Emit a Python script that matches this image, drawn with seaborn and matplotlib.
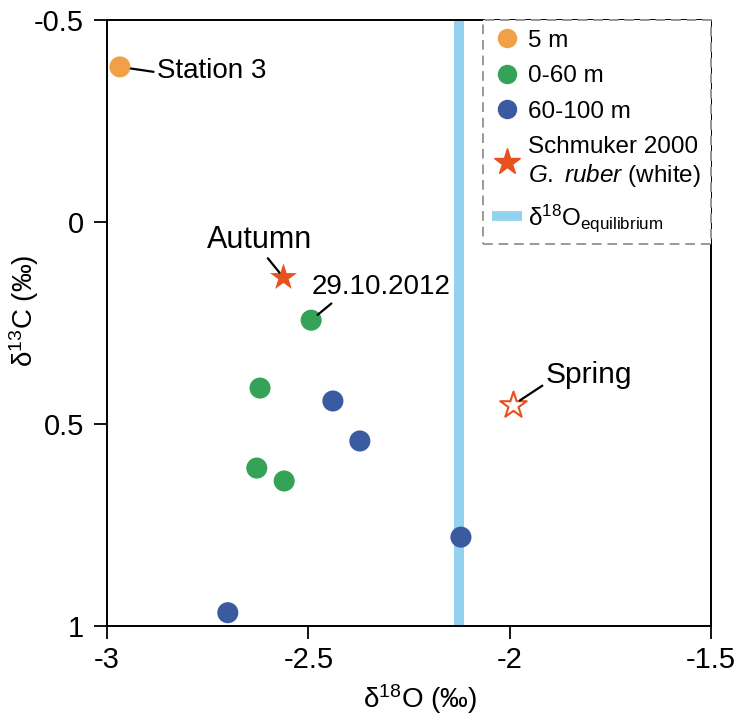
import seaborn as sns
import matplotlib.pyplot as plt
import pandas as pd
from matplotlib.lines import Line2D

# data
groups = ['5 m', '0-60 m', '0-60 m', '0-60 m', '0-60 m',
          '60-100 m', '60-100 m', '60-100 m', '60-100 m']
d18o = [-2.968, -2.493, -2.620, -2.628, -2.560, -2.439, -2.372, -2.121, -2.700]
d13c = [-0.384, 0.243, 0.411, 0.609, 0.641, 0.443, 0.542, 0.780, 0.967]
star_labels = ['Autumn', 'Spring']
star_d18o = [-2.563, -1.992]
star_d13c = [0.136, 0.453]
equilibrium = -2.126
xticks = [-3, -2.5, -2, -1.5]
yticks = [-0.5, 0, 0.5, 1]

pal = {'5 m': '#F2A048', '0-60 m': '#34A358', '60-100 m': '#3B5BA0'}
star_col = '#E8501E'
eq_col = '#92D2EF'

sns.set_style('ticks')
plt.rcParams['font.family'] = ['Liberation Sans', 'DejaVu Sans']
plt.rcParams['mathtext.fontset'] = 'custom'
plt.rcParams['mathtext.rm'] = 'Liberation Sans'
plt.rcParams['mathtext.it'] = 'Liberation Sans:italic'
for k in ['text.color', 'axes.labelcolor', 'xtick.color', 'ytick.color']:
    plt.rcParams[k] = 'black'

df = pd.DataFrame({'group': groups, 'd18o': d18o, 'd13c': d13c})

fig = plt.figure(figsize=(7.39, 7.18), dpi=100)
ax = fig.add_axes([0.1448, 0.1281, 0.8173, 0.844])

ax.axvline(equilibrium, color=eq_col, lw=7.2, zorder=1)
sns.scatterplot(data=df, x='d18o', y='d13c', hue='group', palette=pal,
                s=230, linewidth=0, legend=False, ax=ax, zorder=3)
ax.scatter(star_d18o[:1], star_d13c[:1], marker='*', s=420, color=star_col,
           linewidths=0, zorder=3)
ax.scatter(star_d18o[1:], star_d13c[1:], marker='*', s=400, facecolor='white',
           edgecolor=star_col, linewidths=1.5, zorder=3)

ax.set_xlim(-3, -1.5)
ax.set_ylim(1, -0.5)
ax.set_xticks(xticks)
ax.set_xticklabels(['-3', '-2.5', '-2', '-1.5'])
ax.set_yticks(yticks)
ax.set_yticklabels(['-0.5', '0', '0.5', '1'])
ax.tick_params(labelsize=21, length=9.5, width=1.3, direction='out')
ax.tick_params(axis='y', pad=7)
ax.tick_params(axis='x', pad=5)
for s in ax.spines.values():
    s.set_linewidth(1.4)
    s.set_color('black')
ax.set_xlabel('δ$^{18}$O (‰)', fontsize=20)
ax.set_ylabel('δ$^{13}$C (‰)', fontsize=20)
ax.xaxis.set_label_coords(0.518, -0.092)
ax.yaxis.set_label_coords(-0.11, 0.52)

arrow = dict(arrowstyle='-', lw=1.6, color='black', shrinkA=0)
ax.annotate('Station 3', xy=(d18o[0], d13c[0]), xytext=(26.6, -8),
            textcoords='offset points', ha='left', va='baseline', fontsize=20,
            arrowprops=dict(arrow, relpos=(0, 0.45), shrinkB=8))
ax.annotate('Autumn', xy=(star_d18o[0], star_d13c[0]), xytext=(-16.6, 20.9),
            textcoords='offset points', ha='center', va='baseline', fontsize=22,
            arrowprops=dict(arrow, relpos=(0.55, 0), shrinkB=4))
ax.annotate('29.10.2012', xy=(d18o[1], d13c[1]), xytext=(50.4, 18.7),
            textcoords='offset points', ha='center', va='baseline', fontsize=20,
            arrowprops=dict(arrow, relpos=(0.17, 0), shrinkB=6))
ax.annotate('Spring', xy=(star_d18o[1], star_d13c[1]), xytext=(54.7, 15.8),
            textcoords='offset points', ha='center', va='baseline', fontsize=21.5,
            arrowprops=dict(arrow, relpos=(0, 0.2), shrinkB=6))

handles = [Line2D([], [], marker='o', ls='', color=pal[g], markersize=13)
           for g in pal]
handles.append(Line2D([], [], marker='*', ls='', color=star_col, markersize=20))
handles.append(Line2D([], [], color=eq_col, lw=7, solid_capstyle='butt'))
labels = list(pal) + ['Schmuker 2000\n$\\mathit{G.\\ ruber}$ (white)',
                      'δ$^{18}$O$_{\\mathrm{equilibrium}}$']
leg = ax.legend(handles, labels, loc='upper right', borderaxespad=0,
                fontsize=17.5, frameon=True, fancybox=False, handlelength=1.23,
                handletextpad=0.25, labelspacing=0.55, borderpad=0.4)
frame = leg.get_frame()
frame.set_edgecolor('#999999')
frame.set_linestyle((0, (5, 3)))
frame.set_linewidth(1.4)
frame.set_facecolor('white')
frame.set_alpha(None)

fig.savefig('out.png', dpi=100)
